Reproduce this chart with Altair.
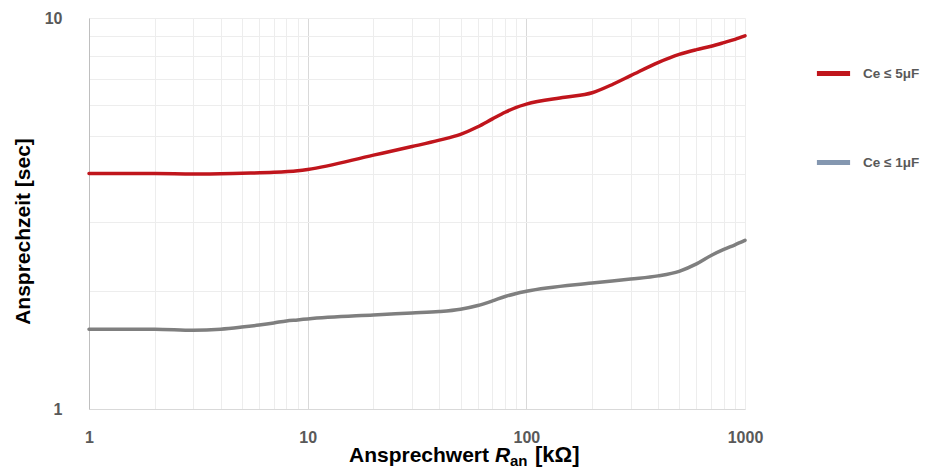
import altair as alt
import pandas as pd

# ---- data ----
series = ["Ce ≤ 5μF", "Ce ≤ 1μF"]
line_colors = ["#C0151C", "#7F7F7F"]
legend_colors = ["#C0151C", "#8497B0"]

x_red = [1, 2, 3, 5, 7, 9, 10, 20, 30, 40, 50, 60, 70, 80, 90, 100, 150, 200,
         250, 300, 400, 500, 600, 700, 800, 900, 1000]
y_red = [4.0, 4.0, 3.99, 4.01, 4.03, 4.07, 4.10, 4.46, 4.69, 4.87, 5.04, 5.27,
         5.52, 5.74, 5.91, 6.02, 6.27, 6.44, 6.78, 7.12, 7.69, 8.07, 8.30, 8.47,
         8.65, 8.82, 9.0]

x_gray = [1, 2, 3, 4, 5, 6, 7, 8, 9, 10, 20, 30, 40, 50, 60, 70, 80, 90, 100,
          200, 300, 400, 500, 600, 700, 800, 900, 1000]
y_gray = [1.60, 1.60, 1.59, 1.60, 1.62, 1.64, 1.66, 1.68, 1.69, 1.70, 1.74,
          1.76, 1.775, 1.80, 1.84, 1.89, 1.94, 1.975, 2.0, 2.10, 2.15, 2.19,
          2.25, 2.35, 2.47, 2.56, 2.63, 2.70]

x_grid = [k * 10 ** d for d in range(3) for k in range(1, 10)] + [1000]
y_grid = list(range(1, 11))
x_labels = [1, 10, 100, 1000]
y_labels = [1, 10]

y_title = "Ansprechzeit [sec]"
x_title_parts = ["Ansprechwert", "R", "an", "[kΩ]"]

df = pd.concat([
    pd.DataFrame({"R": x_red, "t": y_red, "s": series[0]}),
    pd.DataFrame({"R": x_gray, "t": y_gray, "s": series[1]}),
])

FONT = "Liberation Sans"
LABEL_GRAY = "#595959"


def label_expr(vals):
    cond = " || ".join(f"datum.value === {v}" for v in vals)
    return f"({cond}) ? format(datum.value, 'd') : ''"


x_enc = alt.X(
    "R:Q",
    scale=alt.Scale(type="log", domain=[1, 1000], nice=False),
    axis=alt.Axis(
        values=x_grid, labelExpr=label_expr(x_labels), title=None,
        ticks=False, tickSize=0, labelPadding=20, labelFlush=False,
        labelOverlap=False, labelFont=FONT, labelFontSize=16,
        labelFontWeight="bold", labelColor=LABEL_GRAY,
        domainColor="#D9D9D9", grid=True,
        gridColor={"condition": {"test": "datum.value === 10 || datum.value === 100",
                                 "value": "#D9D9D9"}, "value": "#EDEDED"},
    ),
)
y_enc = alt.Y(
    "t:Q",
    scale=alt.Scale(type="log", domain=[1, 10], nice=False),
    axis=alt.Axis(
        values=y_grid, labelExpr=label_expr(y_labels), title=y_title,
        ticks=False, tickSize=0, labelPadding=27, labelFlush=False,
        labelOverlap=False, labelFont=FONT, labelFontSize=16,
        labelFontWeight="bold", labelColor=LABEL_GRAY,
        domainColor="#BFBFBF", grid=True, gridColor="#EDEDED",
        titleFont=FONT, titleFontSize=21, titleFontWeight="bold",
        titleColor="#000000", titleAngle=270, titleAlign="center",
        titleBaseline="middle", titleX=-66, titleY=213,
    ),
)

legend_layer = alt.Chart(df).mark_line(strokeWidth=0.5, interpolate="monotone").encode(
    x=x_enc, y=y_enc,
    color=alt.Color(
        "s:N",
        scale=alt.Scale(domain=series, range=legend_colors),
        legend=alt.Legend(
            title=None, orient="none", legendX=725, legendY=36,
            symbolType="stroke", symbolStrokeWidth=5, symbolSize=1100,
            rowPadding=59, padding=0, labelFont=FONT, labelFontSize=13.5,
            labelFontWeight="bold", labelColor=LABEL_GRAY, labelOffset=10,
        ),
    ),
)

lines = alt.Chart(df).mark_line(strokeWidth=3.5, interpolate="monotone",
                                strokeCap="round").encode(
    x=x_enc, y=y_enc,
    stroke=alt.Stroke("s:N", scale=alt.Scale(domain=series, range=line_colors),
                      legend=None),
)


def title_text(txt, xpx, ypx, size, style="normal"):
    return alt.Chart(pd.DataFrame({"txt": [txt]})).mark_text(
        align="left", baseline="alphabetic", font=FONT, fontSize=size,
        fontWeight="bold", fontStyle=style, color="#000000",
    ).encode(text="txt:N", x=alt.value(xpx), y=alt.value(ypx))


t1 = title_text(x_title_parts[0], 260, 444, 21)
t2 = title_text(x_title_parts[1], 406, 444, 21, "italic")
t3 = title_text(x_title_parts[2], 421, 448, 15)
t4 = title_text(x_title_parts[3], 446, 444, 22)

chart = alt.layer(legend_layer, lines, t1, t2, t3, t4).properties(
    width=656, height=391,
    autosize=alt.AutoSizeParams(type="none"),
    padding={"left": 81, "top": 10, "right": 177, "bottom": 59},
    background="white",
).configure_view(strokeWidth=0)

chart.save("out.html", embed_options={"renderer": "svg", "actions": False})
